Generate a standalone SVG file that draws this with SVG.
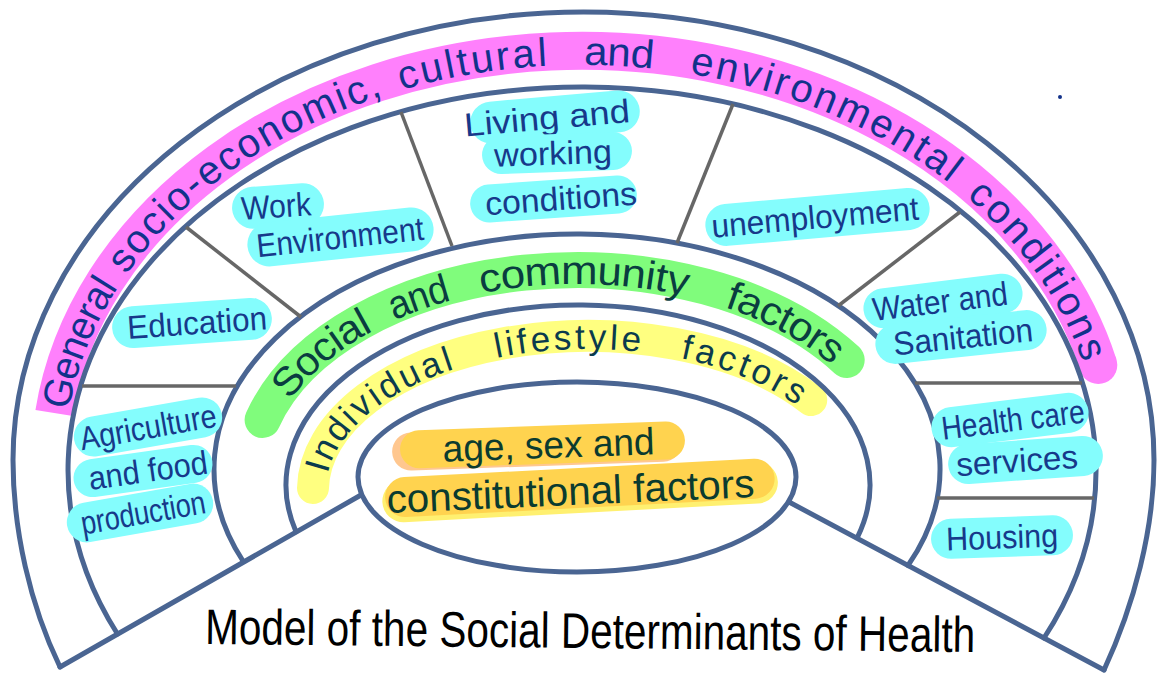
<svg xmlns="http://www.w3.org/2000/svg" width="1161" height="677" viewBox="0 0 1161 677">
<style>
.arc{fill:none;stroke:#4a6592;stroke-width:5;stroke-linecap:round;stroke-linejoin:round}
.sep{fill:none;stroke:#676767;stroke-width:3.5}
.pill{fill:#84fdfd}
.lbl{font-family:"Liberation Sans",Arial,sans-serif;font-size:33px;fill:#17398a;text-anchor:middle;dominant-baseline:central}
.band{fill:none}
.bt{font-family:"Liberation Sans",Arial,sans-serif;dominant-baseline:central}
.pk{font-size:40px;fill:#12328a}
.gr{font-size:40px;fill:#0a3d40}
.ye{font-size:35px;fill:#0b3b4d}
.ctr{font-family:"Liberation Sans",Arial,sans-serif;fill:#0b3b2f;text-anchor:middle}
</style>
<defs>
<path id="pinkPath" d="M 54.2 413 A 532 414 0 0 1 1098.3 365"/>
<path id="greenPath" d="M 262.6 420 A 327 207 0 0 1 846.7 360"/>
<path id="yellowPath" d="M 313 488 A 275 154 0 0 1 811.2 400"/>
</defs>
<rect width="1161" height="677" fill="#ffffff"/>

<g id="general-conditions">
<use href="#pinkPath" class="band" stroke="#ff80fc" stroke-width="38" stroke-linecap="butt"/>
<circle cx="1098.3" cy="365" r="19" fill="#ff80fc"/>
</g>
<g id="social-community">
<use href="#greenPath" class="band" stroke="#80fc7c" stroke-width="36" stroke-linecap="round"/>
</g>
<g id="individual-lifestyle">
<use href="#yellowPath" class="band" stroke="#ffff80" stroke-width="32" stroke-linecap="round"/>
</g>

<g id="frame">
<path class="arc" d="M 60 667 C 30 605 13 530 13 460 A 570.5 448 0 0 1 1154 460 C 1154 530 1134 605 1104 670"/>
<path class="arc" d="M 117.5 634 A 514 383 0 1 1 1044 638"/>
<path class="arc" d="M 243 561 A 363 235 0 1 1 908 565.5"/>
<path class="arc" d="M 296 531.7 A 292 180 0 1 1 857.4 537.3"/>
<path class="arc" d="M 60 667 L 361 495"/>
<path class="arc" d="M 1104 670 L 789 502"/>
</g>

<g id="connectors">
<path class="sep" d="M 82 386 L 236 386"/>
<path class="sep" d="M 186 227 L 301 317"/>
<path class="sep" d="M 401 112 L 452 246"/>
<path class="sep" d="M 733 104 L 677 243"/>
<path class="sep" d="M 960 212 L 838 306"/>
<path class="sep" d="M 915 383 L 1082 383"/>
<path class="sep" d="M 937 498 L 1094 498"/>
</g>

<g id="general-conditions-label">
<text class="bt pk"><textPath href="#pinkPath" startOffset="6" textLength="138" lengthAdjust="spacingAndGlyphs">General</textPath></text>
<text class="bt pk"><textPath href="#pinkPath" startOffset="160" textLength="327" lengthAdjust="spacing">socio-economic,</textPath></text>
<text class="bt pk"><textPath href="#pinkPath" startOffset="507" textLength="151" lengthAdjust="spacing">cultural</textPath></text>
<text class="bt pk"><textPath href="#pinkPath" startOffset="696" textLength="70" lengthAdjust="spacingAndGlyphs">and</textPath></text>
<text class="bt pk"><textPath href="#pinkPath" startOffset="804" textLength="291" lengthAdjust="spacing">environmental</textPath></text>
<text class="bt pk"><textPath href="#pinkPath" startOffset="1118" textLength="212" lengthAdjust="spacing">conditions</textPath></text>
<circle cx="1060" cy="97" r="2" fill="#12328a"/>
</g>
<g id="social-community-label">
<text class="bt gr"><textPath href="#greenPath" startOffset="33" textLength="115" lengthAdjust="spacingAndGlyphs">Social</textPath></text>
<text class="bt gr"><textPath href="#greenPath" startOffset="173" textLength="62" lengthAdjust="spacingAndGlyphs">and</textPath></text>
<text class="bt gr"><textPath href="#greenPath" startOffset="267" textLength="212" lengthAdjust="spacingAndGlyphs">community</textPath></text>
<text class="bt gr"><textPath href="#greenPath" startOffset="520" textLength="128" lengthAdjust="spacingAndGlyphs">factors</textPath></text>
</g>
<g id="individual-lifestyle-label">
<text class="bt ye"><textPath href="#yellowPath" startOffset="18" textLength="184" lengthAdjust="spacing">Individual</textPath></text>
<text class="bt ye"><textPath href="#yellowPath" startOffset="247" textLength="148" lengthAdjust="spacing">lifestyle</textPath></text>
<text class="bt ye"><textPath href="#yellowPath" startOffset="437" textLength="132" lengthAdjust="spacing">factors</textPath></text>
</g>

<g id="core">
<ellipse cx="577" cy="477" rx="219" ry="95" fill="none" stroke="#4a6592" stroke-width="5"/>
<g transform="translate(540 445) rotate(-2)">
<rect x="-148" y="-17" width="290" height="38" rx="19" fill="#ffc78f"/>
<rect x="-140" y="-19" width="285" height="38" rx="19" fill="#ffd34f"/>
</g>
<g transform="translate(578 490) rotate(-3)">
<rect x="-196" y="-19" width="396" height="42" rx="21" fill="#fff070"/>
<rect x="-193" y="-22" width="390" height="40" rx="20" fill="#ffd34f"/>
</g>
<text class="ctr" font-size="38" transform="translate(549 458) rotate(-2)" textLength="212" lengthAdjust="spacingAndGlyphs">age, sex and</text>
<text class="ctr" font-size="40" transform="translate(571 505) rotate(-2.5)" textLength="368" lengthAdjust="spacingAndGlyphs">constitutional factors</text>
</g>

<g id="work-environment">
<g transform="translate(278 206) rotate(-4)"><rect class="pill" x="-46" y="-21" width="92" height="42" rx="21"/><text class="lbl" x="-2" textLength="70" lengthAdjust="spacingAndGlyphs">Work</text></g>
<g transform="translate(340 237) rotate(-6)"><rect class="pill" x="-93" y="-22" width="187" height="44" rx="22"/><text class="lbl" textLength="168" lengthAdjust="spacingAndGlyphs">Environment</text></g>
</g>
<g id="education">
<g transform="translate(192 323) rotate(-4)"><rect class="pill" x="-80" y="-21" width="160" height="42" rx="21"/><text class="lbl" x="5" textLength="140" lengthAdjust="spacingAndGlyphs">Education</text></g>
</g>
<g id="agriculture">
<g transform="translate(148 427) rotate(-10)"><rect class="pill" x="-75" y="-20" width="150" height="40" rx="20"/><text class="lbl" textLength="138" lengthAdjust="spacingAndGlyphs">Agriculture</text></g>
<g transform="translate(143 471) rotate(-8)"><rect class="pill" x="-70" y="-19" width="140" height="38" rx="19"/><text class="lbl" x="5" textLength="120" lengthAdjust="spacingAndGlyphs">and food</text></g>
<g transform="translate(140 513) rotate(-10)"><rect class="pill" x="-74" y="-20" width="148" height="40" rx="20"/><text class="lbl" x="3" textLength="126" lengthAdjust="spacingAndGlyphs">production</text></g>
</g>
<g id="living-working">
<g transform="translate(555 117) rotate(-5)"><rect class="pill" x="-85" y="-21" width="170" height="42" rx="21"/><text class="lbl" x="-8" textLength="166" lengthAdjust="spacingAndGlyphs">Living and</text></g>
<g transform="translate(557 153) rotate(-2)"><rect class="pill" x="-75" y="-19" width="150" height="38" rx="19"/><text class="lbl" x="-4" textLength="118" lengthAdjust="spacingAndGlyphs">working</text></g>
<g transform="translate(553 199) rotate(-4)"><rect class="pill" x="-83" y="-19" width="167" height="38" rx="19"/><text class="lbl" x="8" textLength="152" lengthAdjust="spacingAndGlyphs">conditions</text></g>
</g>
<g id="unemployment">
<g transform="translate(817 217) rotate(-5)"><rect class="pill" x="-112" y="-21" width="225" height="42" rx="21"/><text class="lbl" x="-2" textLength="208" lengthAdjust="spacingAndGlyphs">unemployment</text></g>
</g>
<g id="water-sanitation">
<g transform="translate(943 301) rotate(-7)"><rect class="pill" x="-80" y="-20" width="160" height="40" rx="20"/><text class="lbl" x="-3" textLength="136" lengthAdjust="spacingAndGlyphs">Water and</text></g>
<g transform="translate(961 337) rotate(-6)"><rect class="pill" x="-86" y="-20" width="172" height="40" rx="20"/><text class="lbl" x="2" textLength="140" lengthAdjust="spacingAndGlyphs">Sanitation</text></g>
</g>
<g id="health-care">
<g transform="translate(1010 420) rotate(-7)"><rect class="pill" x="-79" y="-20" width="158" height="40" rx="20"/><text class="lbl" x="3" textLength="144" lengthAdjust="spacingAndGlyphs">Health care</text></g>
<g transform="translate(1025 460) rotate(-4)"><rect class="pill" x="-77" y="-20" width="155" height="40" rx="20"/><text class="lbl" x="-8" textLength="122" lengthAdjust="spacingAndGlyphs">services</text></g>
</g>
<g id="housing">
<g transform="translate(1002 537) rotate(-2)"><rect class="pill" x="-71" y="-20" width="142" height="40" rx="20"/><text class="lbl" textLength="112" lengthAdjust="spacingAndGlyphs">Housing</text></g>
</g>

<g id="title">
<text x="205" y="644" transform="rotate(0.6 205 644)" font-family="'Liberation Sans',Arial,sans-serif" font-size="50" fill="#000000" textLength="770" lengthAdjust="spacingAndGlyphs">Model of the Social Determinants of Health</text>
</g>
</svg>
